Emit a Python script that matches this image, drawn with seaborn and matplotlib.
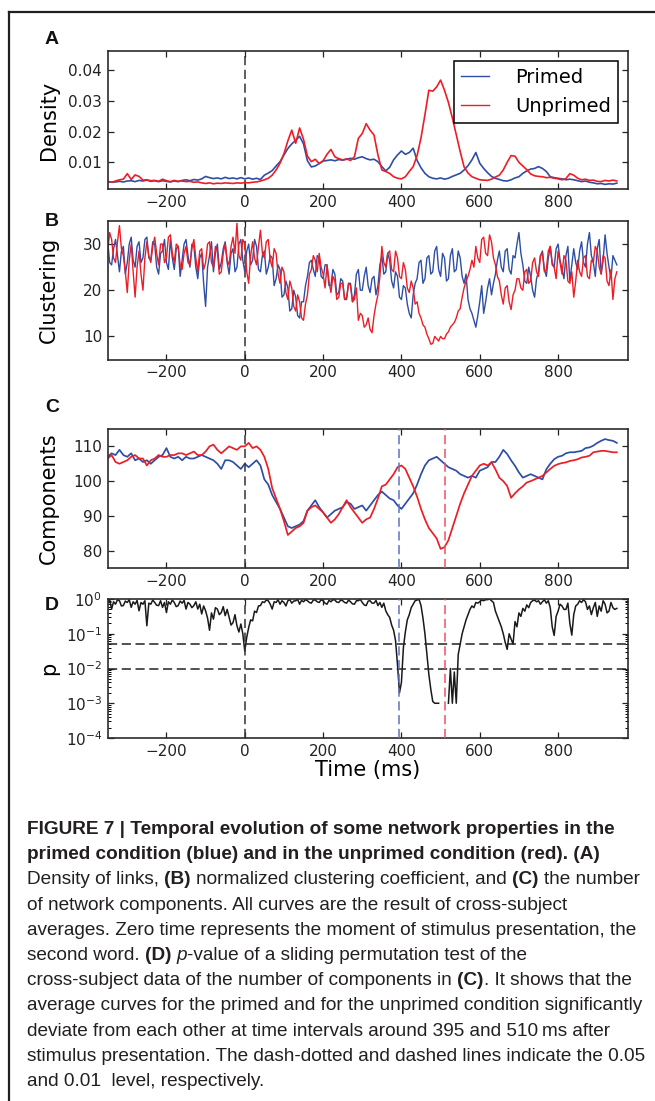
import numpy as np
import pandas as pd
import matplotlib
matplotlib.use("Agg")
import matplotlib.pyplot as plt
import seaborn as sns
from matplotlib.lines import Line2D
from matplotlib.ticker import FixedLocator, FormatStrFormatter

# ---------------- data ----------------
# Panels A, C: time grid -350 ms ... 950 ms, 10 ms step
T_START, T_STEP = -350, 10
# Panels B, D: time grid -350 ms ... 950 ms, 5 ms step
T5_START, T5_STEP = -350, 5

# Panel A: density of links (values in units of 1e-3)
density_primed_e3 = [
    3.7, 3.5, 3.6, 3.8, 3.6, 3.9, 4.0, 3.7, 4.1, 3.9,
    4.2, 3.8, 4.0, 3.7, 4.0, 3.8, 3.6, 3.9, 3.7, 4.1,
    4.3, 4.0, 4.4, 4.2, 4.6, 5.4, 5.0, 4.7, 4.9, 4.6,
    5.1, 4.7, 4.9, 4.6, 5.0, 4.6, 4.9, 4.5, 4.8, 4.4,
    5.8, 6.5, 7.3, 8.8, 10.2, 12.4, 14.5, 16.0, 17.2, 18.5,
    16.0, 10.5, 8.5, 8.8, 9.6, 10.4, 10.6, 10.8, 10.5, 10.9,
    10.7, 11.0, 11.3, 11.0, 11.5, 11.8, 11.2, 10.8, 11.0, 10.2,
    8.6, 7.2, 8.4, 10.8, 12.4, 13.7, 12.6, 13.2, 14.6, 10.6,
    8.2, 6.4, 5.3, 4.8, 4.6, 4.9, 4.5, 4.8, 5.4, 5.9,
    6.4, 7.5, 8.9, 10.8, 13.2, 9.7, 8.0, 6.6, 5.4, 4.8,
    4.4, 4.0, 3.9, 4.3, 4.9, 5.3, 6.4, 7.2, 7.8, 8.0,
    8.6, 8.0, 7.0, 5.3, 5.0, 4.8, 4.6, 4.3, 4.5, 4.3,
    4.0, 3.7, 3.9, 3.5, 3.3, 3.0, 3.1, 2.8, 3.0, 2.9,
    3.2,
]
density_unprimed_e3 = [
    3.8, 3.5, 3.9, 4.3, 4.5, 6.3, 4.4, 5.9, 5.4, 4.2,
    4.3, 4.0, 4.1, 3.8, 4.5, 4.0, 3.7, 4.1, 3.8, 3.9,
    3.7, 3.8, 3.5, 3.6, 3.3, 3.1, 3.3, 3.0, 3.2, 3.1,
    3.3, 3.2, 3.1, 3.3, 3.2, 3.4, 3.3, 3.5, 3.6, 3.9,
    4.3, 4.8, 5.8, 7.5, 9.7, 12.8, 17.0, 20.5, 16.2, 21.2,
    17.5, 12.0, 10.2, 11.0, 9.6, 10.5, 12.6, 14.2, 11.8, 11.2,
    10.8, 11.1, 10.6, 11.8, 17.8, 19.4, 22.6, 20.5, 18.9, 12.4,
    7.5, 7.0, 6.4, 5.3, 4.8, 4.6, 5.3, 7.0, 8.6, 12.2,
    18.0, 25.5, 33.5, 33.2, 34.6, 36.8, 33.5, 29.5, 24.5, 19.0,
    13.5, 8.5, 6.5, 5.3, 4.8, 4.3, 4.2, 4.1, 4.5, 5.2,
    5.8, 7.5, 10.0, 12.2, 12.0, 10.0, 8.8, 7.6, 6.2, 5.6,
    5.4, 5.3, 5.0, 5.1, 4.8, 4.6, 4.3, 4.7, 6.3, 5.8,
    4.8, 4.3, 4.5, 4.1, 4.2, 3.8, 3.7, 4.1, 3.9, 4.2,
    3.9,
]

# Panel B: normalized clustering coefficient (5 ms grid)
clustering_primed = [
    30.5, 26.0, 25.5, 29.0, 31.0, 27.5, 24.0, 28.5, 29.5, 23.5, 26.0, 30.0, 31.5, 26.5, 25.0, 29.5, 30.5, 26.0, 27.0, 31.0,
    31.5, 27.0, 26.5, 30.5, 30.0, 25.0, 23.5, 28.0, 28.5, 31.0, 26.0, 24.5, 31.0, 27.0, 24.5, 29.0, 29.5, 23.0, 26.5, 30.0,
    31.0, 27.5, 25.0, 30.0, 29.5, 25.0, 22.5, 27.0, 28.0, 21.5, 16.5, 25.0, 27.5, 30.5, 24.0, 28.0, 30.0, 24.5, 26.0, 29.0,
    30.5, 26.0, 23.5, 28.0, 29.0, 24.0, 25.0, 30.0, 31.0, 26.5, 24.0, 28.5, 30.0, 25.5, 26.5, 31.0, 29.5, 24.5, 24.0, 27.5,
    28.5, 23.5, 25.0, 27.5, 27.0, 21.0, 22.5, 25.5, 24.5, 18.5, 19.0, 22.0, 20.5, 15.5, 16.0, 20.0, 18.5, 14.5, 14.0, 17.5,
    17.5, 21.0, 23.0, 26.0, 26.5, 24.5, 23.0, 27.5, 27.0, 23.0, 22.5, 25.5, 25.5, 21.0, 21.0, 24.5, 23.5, 19.0, 19.5, 22.5,
    22.0, 18.0, 18.0, 21.5, 21.5, 17.5, 19.0, 23.5, 24.5, 20.0, 20.0, 23.0, 25.0, 21.0, 19.5, 22.5, 23.0, 19.0, 21.0, 25.5,
    27.5, 23.5, 24.0, 28.0, 26.5, 22.0, 20.5, 24.0, 23.0, 18.5, 18.0, 21.0, 20.5, 17.0, 15.0, 14.0, 19.0, 21.5, 22.5, 26.0,
    26.5, 21.5, 22.5, 27.0, 27.5, 23.5, 24.0, 28.5, 29.5, 24.5, 23.0, 28.0, 27.0, 22.0, 22.5, 27.5, 29.0, 24.0, 24.5, 28.5,
    27.0, 23.0, 21.5, 23.5, 18.0, 16.0, 15.0, 13.5, 12.0, 14.5, 17.5, 21.0, 15.0, 17.5, 20.5, 22.5, 19.0, 21.5, 23.5, 26.5,
    28.5, 25.0, 24.0, 28.5, 29.0, 24.5, 23.5, 27.5, 27.0, 30.0, 32.5, 28.0, 25.5, 22.0, 21.5, 25.0, 23.0, 20.0, 18.5, 22.5,
    24.0, 27.5, 28.5, 24.5, 23.0, 27.0, 29.5, 25.5, 25.0, 29.0, 30.0, 26.5, 24.5, 22.5, 27.5, 29.5, 22.0, 25.5, 29.0, 26.0,
    24.5, 28.5, 30.5, 26.0, 25.0, 30.0, 32.5, 27.5, 26.0, 23.0, 29.0, 31.0, 23.5, 26.5, 32.0, 28.0, 25.0, 22.5, 27.5, 26.5,
    25.5,
]
clustering_unprimed = [
    28.5, 32.5, 31.0, 27.0, 26.0, 30.5, 34.0, 29.0, 27.5, 24.0, 19.5, 26.5, 30.0, 24.0, 18.5, 25.0, 28.5, 23.5, 20.0, 27.0,
    30.5, 27.5, 26.0, 29.5, 31.5, 28.0, 25.5, 30.0, 30.0, 26.0, 27.0, 31.5, 32.0, 28.0, 26.0, 30.0, 29.5, 25.5, 24.5, 28.0,
    29.5, 26.0, 25.5, 29.0, 31.0, 27.0, 24.0, 28.5, 29.0, 24.5, 26.0, 30.0, 30.5, 26.0, 25.0, 29.5, 28.5, 23.5, 24.0, 28.0,
    30.0, 26.5, 25.5, 29.5, 31.5, 28.0, 34.5, 27.5, 26.5, 31.0, 30.0, 24.0, 21.5, 27.5, 30.5, 27.0, 25.5, 29.5, 33.0, 28.0,
    27.0, 30.5, 31.0, 26.5, 25.0, 29.0, 28.0, 23.5, 21.5, 25.0, 24.0, 19.5, 18.0, 22.0, 20.5, 16.5, 15.5, 19.0, 17.5, 14.0,
    13.5, 17.0, 19.0, 23.5, 24.5, 27.5, 26.5, 24.0, 28.0, 25.0, 23.5, 20.5, 25.5, 22.0, 19.5, 23.0, 22.0, 18.0, 18.5, 21.5,
    21.5, 18.0, 18.5, 21.5, 21.0, 17.5, 18.0, 20.5, 13.5, 15.0, 14.5, 12.0, 12.5, 14.0, 11.5, 10.8, 14.5, 17.0, 19.0, 23.0,
    29.5, 26.0, 25.0, 28.0, 28.5, 24.5, 24.0, 28.5, 27.0, 23.0, 22.5, 26.0, 24.5, 20.5, 19.5, 22.0, 20.5, 17.0, 17.5, 15.0,
    14.0, 12.5, 12.0, 10.5, 9.5, 8.3, 8.5, 10.0, 9.5, 9.0, 10.0, 9.5, 9.5, 10.5, 11.0, 12.0, 12.5, 13.0, 14.0, 15.5,
    16.0, 18.5, 20.5, 22.0, 23.0, 24.5, 26.5, 25.0, 29.5, 27.0, 26.0, 31.0, 31.5, 28.0, 27.5, 32.0, 30.5, 27.0, 25.5, 23.0,
    22.0, 19.0, 17.0, 20.5, 21.0, 17.5, 15.8, 19.0, 20.0, 22.5, 22.5, 20.5, 20.0, 24.0, 24.5, 21.5, 22.0, 26.0, 27.0, 24.0,
    23.0, 27.5, 28.0, 24.0, 24.5, 28.5, 29.5, 26.0, 25.0, 22.5, 28.5, 26.0, 23.5, 27.5, 26.5, 22.0, 21.5, 24.0, 18.5, 22.0,
    26.5, 24.0, 23.0, 27.0, 27.5, 23.0, 22.5, 26.5, 26.0, 29.5, 28.5, 25.0, 23.5, 27.5, 27.0, 22.0, 21.0, 24.5, 18.0, 22.5,
    24.0,
]

# Panel C: number of network components
components_primed = [
    107.0, 108.0, 107.5, 109.0, 107.5, 107.0, 108.0, 106.0, 106.5, 105.5,
    106.0, 105.0, 106.0, 107.0, 107.5, 109.5, 107.0, 106.5, 107.0, 106.0,
    107.0, 106.5, 106.5, 107.0, 107.5, 107.0, 106.5, 106.0, 105.0, 103.5,
    106.0, 106.0, 105.5, 104.5, 103.5, 105.0, 104.0, 105.0, 106.0, 104.5,
    100.5, 99.0, 96.0, 94.0, 92.0, 89.5, 87.0, 86.5, 87.0, 87.5,
    88.5, 91.5, 93.0, 94.5, 92.5, 91.0, 89.5, 90.5, 91.5, 92.0,
    92.5, 94.0, 93.5, 92.0, 92.5, 93.0, 91.5, 93.0, 94.5, 96.0,
    97.0, 96.0, 95.0, 94.5, 93.0, 92.0, 93.5, 95.0, 96.5, 99.0,
    102.0, 104.5, 106.0, 106.5, 107.0, 106.0, 105.0, 104.0, 103.5, 103.0,
    102.0, 101.5, 101.0, 101.5, 101.0, 103.0, 103.5, 104.0, 105.5, 105.5,
    107.0, 109.0, 107.8, 106.0, 104.4, 102.5, 101.0, 101.5, 102.0, 101.5,
    101.0, 100.5, 103.4, 105.0, 106.3, 107.0, 107.3, 108.0, 108.3, 108.3,
    108.5, 108.7, 109.5, 109.7, 110.2, 111.0, 111.6, 112.1, 111.8, 111.6,
    111.0,
]
components_unprimed = [
    106.5, 107.5, 105.5, 105.0, 105.5, 106.0, 107.0, 107.5, 106.5, 106.5,
    104.5, 106.0, 106.5, 107.5, 107.0, 107.0, 107.5, 107.5, 108.0, 108.0,
    107.5, 108.0, 108.5, 107.5, 107.5, 108.5, 110.0, 110.5, 109.0, 108.0,
    109.0, 110.0, 109.5, 109.0, 110.0, 110.0, 111.0, 109.5, 110.0, 109.0,
    107.0, 103.5, 98.0, 95.0, 92.0, 88.5, 84.5, 85.5, 86.5, 87.0,
    88.0, 91.5, 92.5, 93.0, 92.0, 91.0, 89.5, 88.0, 89.0, 90.5,
    92.5, 94.5, 92.5, 91.0, 89.5, 88.0, 89.0, 89.5, 92.0, 95.0,
    98.5, 99.0, 100.5, 102.0, 104.0, 104.5, 103.5, 101.0, 98.5, 95.5,
    92.0, 89.0, 86.5, 85.0, 83.5, 80.5, 81.0, 83.0, 86.5, 90.0,
    93.5, 96.5, 99.0, 101.5, 103.0, 104.5, 105.0, 104.5, 105.4, 103.4,
    101.0, 100.0, 98.6, 95.2, 96.5, 97.6, 98.5, 99.6, 100.0, 100.5,
    101.0, 101.5, 102.5, 103.5, 104.4, 104.9, 105.2, 105.4, 105.8, 106.0,
    106.3, 106.8, 107.0, 107.3, 108.3, 108.5, 108.7, 108.7, 108.5, 108.3,
    108.3,
]

# Panel D: p-value of the sliding permutation test, stored as log10(p), 5 ms grid
# (nan = p = 0, not drawn on a log axis)
p_log10 = [
    -0.10, -0.03, -0.29, -0.08, -0.15, -0.02, -0.05, -0.20, -0.19, -0.06, -0.10, -0.02, -0.24, -0.08, -0.15, -0.04, -0.34, -0.10, -0.15, -0.05,
    -0.77, -0.12, -0.15, -0.03, -0.10, -0.18, -0.19, -0.05, -0.24, -0.10, -0.39, -0.08, -0.15, -0.03, -0.10, -0.22, -0.19, -0.06, -0.12, -0.04,
    -0.29, -0.10, -0.15, -0.25, -0.19, -0.08, -0.29, -0.15, -0.43, -0.20, -0.34, -0.55, -0.90, -0.40, -0.58, -0.25, -0.29, -0.45, -0.39, -0.22,
    -0.48, -0.30, -0.53, -0.75, -0.68, -0.45, -0.77, -0.95, -0.72, -1.00, -1.50, -1.10, -0.82, -0.60, -0.63, -0.35, -0.39, -0.20, -0.19, -0.08,
    -0.10, -0.03, -0.05, -0.15, -0.29, -0.08, -0.10, -0.02, -0.15, -0.05, -0.10, -0.20, -0.05, -0.02, -0.12, -0.06, -0.05, -0.01, -0.15, -0.04,
    -0.08, -0.02, -0.05, -0.10, -0.12, -0.03, -0.03, -0.08, -0.10, -0.02, -0.05, -0.12, -0.15, -0.04, -0.08, -0.02, -0.03, -0.09, -0.10, -0.03,
    -0.05, -0.10, -0.12, -0.03, -0.08, -0.14, -0.15, -0.05, -0.05, -0.01, -0.10, -0.17, -0.19, -0.06, -0.05, -0.12, -0.12, -0.04, -0.19, -0.10,
    -0.24, -0.12, -0.34, -0.45, -0.53, -0.75, -0.90, -1.20, -1.90, -2.70, -2.40, -1.40, -0.95, -0.60, -0.45, -0.25, -0.15, -0.05, -0.03, -0.01,
    -0.19, -0.55, -1.00, -1.60, -2.17, -2.60, -2.95, -3.00, -3.00, -3.00, np.nan, np.nan, np.nan, np.nan, -3.00, -2.00, -3.00, -2.10, -3.00, -1.60,
    -1.30, -1.00, -0.80, -0.60, -0.45, -0.30, -0.20, -0.25, -0.10, -0.12, -0.08, -0.03, -0.05, -0.02, -0.02, -0.00, -0.05, -0.10, -0.35, -0.50,
    -0.65, -0.80, -1.00, -1.25, -1.45, -1.00, -1.15, -1.30, -0.65, -0.80, -0.40, -0.50, -0.27, -0.35, -0.17, -0.25, -0.10, -0.05, -0.03, -0.08,
    -0.05, -0.15, -0.08, -0.02, -0.12, -0.05, -0.25, -0.80, -1.05, -0.50, -0.35, -0.15, -0.20, -0.30, -0.30, -0.12, -0.70, -1.04, -0.45, -0.20,
    -0.15, -0.05, -0.10, -0.02, -0.08, -0.30, -0.20, -0.45, -0.25, -0.10, -0.50, -0.20, -0.35, -0.05, -0.15, -0.40, -0.35, -0.10, -0.25, -0.30,
    -0.27,
]

stimulus_onset = 0
primed_marker = 395
unprimed_marker = 510
p_levels = [0.05, 0.01]

x_ticks = [-200, 0, 200, 400, 600, 800]
density_ticks = [0.01, 0.02, 0.03, 0.04]
clustering_ticks = [10, 20, 30]
components_ticks = [80, 90, 100, 110]

# ---------------- build tables ----------------
n = len(density_primed_e3)
df = pd.DataFrame({
    "time": T_START + T_STEP * np.arange(n),
    "dens_p": np.array(density_primed_e3) * 1e-3,
    "dens_u": np.array(density_unprimed_e3) * 1e-3,
    "comp_p": components_primed,
    "comp_u": components_unprimed,
})
nb = len(clustering_primed)
df_b = pd.DataFrame({
    "time": T5_START + T5_STEP * np.arange(nb),
    "clu_p": clustering_primed,
    "clu_u": clustering_unprimed,
})
nd = len(p_log10)
df_d = pd.DataFrame({
    "time": T5_START + T5_STEP * np.arange(nd),
    "p": 10.0 ** np.array(p_log10, dtype=float),
})

BLUE = "#2E4EA6"
RED = "#EE1D25"
FRAME = "#2b2b2b"
DASH = (0, (6, 3))

W_PX, H_PX = 655, 1101
fig = plt.figure(figsize=(W_PX / 100, H_PX / 100), dpi=100)
plt.rcParams["font.family"] = ["DejaVu Sans"]
plt.rcParams["mathtext.default"] = "regular"


def rect(top, bottom, left=107.7, right=627.8):
    return [left / W_PX, 1 - bottom / H_PX, (right - left) / W_PX, (bottom - top) / H_PX]


axA = fig.add_axes(rect(51, 189.3))
axB = fig.add_axes(rect(221, 359.5))
axC = fig.add_axes(rect(429, 568))
axD = fig.add_axes(rect(599, 738))

# Panel A
axA.axvline(stimulus_onset, color="#333333", ls=DASH, lw=1.1, zorder=1)
sns.lineplot(data=df, x="time", y="dens_p", ax=axA, color=BLUE, lw=1.2,
             estimator=None, sort=False, label="Primed")
sns.lineplot(data=df, x="time", y="dens_u", ax=axA, color=RED, lw=1.2,
             estimator=None, sort=False, label="Unprimed")
axA.set_ylim(0.0012, 0.0463)
axA.yaxis.set_major_locator(FixedLocator(density_ticks))
axA.yaxis.set_major_formatter(FormatStrFormatter("%.2f"))
axA.set_ylabel("Density")
leg = axA.legend(loc="upper right", fontsize=14, handlelength=1.4, handletextpad=1.35,
                 borderpad=0.38, labelspacing=0.49, fancybox=False, framealpha=1,
                 edgecolor="black", borderaxespad=0.5)
leg.get_frame().set_linewidth(1.1)
for h in leg.get_lines():
    h.set_linewidth(1.0)

# Panel B
axB.axvline(stimulus_onset, color="#333333", ls=DASH, lw=1.1, zorder=1)
sns.lineplot(data=df_b, x="time", y="clu_p", ax=axB, color=BLUE, lw=1.0,
             estimator=None, sort=False, legend=False)
sns.lineplot(data=df_b, x="time", y="clu_u", ax=axB, color=RED, lw=1.0,
             estimator=None, sort=False, legend=False)
axB.set_ylim(5, 35)
axB.yaxis.set_major_locator(FixedLocator(clustering_ticks))
axB.set_ylabel("Clustering")

# Panel C
sns.lineplot(data=df, x="time", y="comp_p", ax=axC, color=BLUE, lw=1.25,
             estimator=None, sort=False, legend=False)
sns.lineplot(data=df, x="time", y="comp_u", ax=axC, color=RED, lw=1.25,
             estimator=None, sort=False, legend=False)
axC.axvline(stimulus_onset, color="#333333", ls=DASH, lw=1.1, zorder=3)
axC.axvline(primed_marker, color="#5a74c4", ls=DASH, lw=1.1, zorder=3)
axC.axvline(unprimed_marker, color="#f0525c", ls=DASH, lw=1.1, zorder=3)
axC.set_ylim(75, 115)
axC.yaxis.set_major_locator(FixedLocator(components_ticks))
axC.set_ylabel("Components")

# Panel D
valid = df_d["p"].notna()
segment_id = (valid != valid.shift()).cumsum()
for _, seg in df_d[valid].groupby(segment_id[valid]):
    sns.lineplot(data=seg, x="time", y="p", ax=axD, color="#1a1a1a", lw=1.1,
                 estimator=None, sort=False, legend=False)
axD.set_yscale("log")
axD.set_ylim(1e-4, 1.0)
for lvl in p_levels:
    axD.axhline(lvl, color="#222222", ls=DASH, lw=1.1, zorder=3)
axD.axvline(stimulus_onset, color="#333333", ls=DASH, lw=1.1, zorder=3)
axD.axvline(primed_marker, color="#5a74c4", ls=DASH, lw=1.1, zorder=3)
axD.axvline(unprimed_marker, color="#f0525c", ls=DASH, lw=1.1, zorder=3)
axD.set_ylabel("p")
axD.set_xlabel("Time (ms)", fontsize=15, labelpad=1)

for ax in (axA, axB, axC, axD):
    ax.set_xlim(-350, 978)
    ax.xaxis.set_major_locator(FixedLocator(x_ticks))
    if ax is not axD:
        ax.set_xlabel("")
    ax.yaxis.label.set_size(15)
    ax.yaxis.set_label_coords(-0.094, 0.5)
    ax.tick_params(which="major", direction="in", top=True, right=True,
                   length=4.5, width=0.9, labelsize=11, pad=4, colors="#222222",
                   labelcolor="#222222")
    ax.tick_params(which="minor", direction="in", right=True, left=True,
                   length=2.5, width=0.7)
    for sp in ax.spines.values():
        sp.set_linewidth(1.2)
        sp.set_color(FRAME)
    ax.set_facecolor("white")

# Panel letters
for letter, yc in (("A", 40), ("B", 221.5), ("C", 407), ("D", 606)):
    fig.text(52 / W_PX, 1 - yc / H_PX, letter, ha="center", va="center",
             fontsize=14, fontweight="bold", family=["Liberation Sans", "DejaVu Sans"],
             color="#111111")

# Border of the figure box
fig.add_artist(Line2D([9.2 / W_PX, 1.0], [1 - 11.7 / H_PX] * 2, transform=fig.transFigure,
                      color="#231F20", lw=1.6))
fig.add_artist(Line2D([9.2 / W_PX] * 2, [1 - 11.7 / H_PX, 0.0], transform=fig.transFigure,
                      color="#231F20", lw=1.6))

# ---------------- caption ----------------
CAP_FAMILY = ["Liberation Sans", "DejaVu Sans"]
CAP_COLOR = "#231F20"
caption_lines = [
    [("FIGURE 7 | Temporal evolution of some network properties in the", "bold", "normal", False)],
    [("primed condition (blue) and in the unprimed condition (red). (A)", "bold", "normal", False)],
    [("Density of links,", "normal", "normal", False), ("(B)", "bold", "normal", True),
     ("normalized clustering coefficient, and", "normal", "normal", True),
     ("(C)", "bold", "normal", True), ("the number", "normal", "normal", True)],
    [("of network components. All curves are the result of cross-subject", "normal", "normal", False)],
    [("averages. Zero time represents the moment of stimulus presentation, the", "normal", "normal", False)],
    [("second word.", "normal", "normal", False), ("(D)", "bold", "normal", True),
     ("p", "normal", "italic", True),
     ("-value of a sliding permutation test of the", "normal", "normal", False)],
    [("cross-subject data of the number of components in", "normal", "normal", False),
     ("(C)", "bold", "normal", True), (". It shows that the", "normal", "normal", False)],
    [("average curves for the primed and for the unprimed condition significantly", "normal", "normal", False)],
    [("deviate from each other at time intervals around 395 and 510\u2009ms after", "normal", "normal", False)],
    [("stimulus presentation. The dash-dotted and dashed lines indicate the 0.05", "normal", "normal", False)],
    [("and 0.01  level, respectively.", "normal", "normal", False)],
]

renderer = fig.canvas.get_renderer()
probe = fig.text(0, 0, caption_lines[7][0][0], fontsize=10, family=CAP_FAMILY)
probe_w = probe.get_window_extent(renderer).width
probe.remove()
cap_size = 10 * 621.0 / probe_w

overlay = fig.add_axes([0, 0, 1, 1], zorder=-5)
overlay.axis("off")

for i, pieces in enumerate(caption_lines):
    y_fig = 1 - (834 + 25.2 * i) / H_PX
    prev = None
    for txt, weight, style, gap in pieces:
        kw = dict(fontsize=cap_size, fontweight=weight, fontstyle=style, family=CAP_FAMILY,
                  color=CAP_COLOR, ha="left", va="baseline")
        if prev is None:
            prev = overlay.text(27 / W_PX, y_fig, txt, transform=fig.transFigure, **kw)
        else:
            gap_pt = 0.278 * cap_size if gap else 0.0
            prev = overlay.annotate(txt, xy=(1, y_fig), xycoords=(prev, "figure fraction"),
                                    xytext=(gap_pt, 0), textcoords="offset points",
                                    annotation_clip=False, **kw)

fig.savefig("out.png", dpi=100, facecolor="white")
